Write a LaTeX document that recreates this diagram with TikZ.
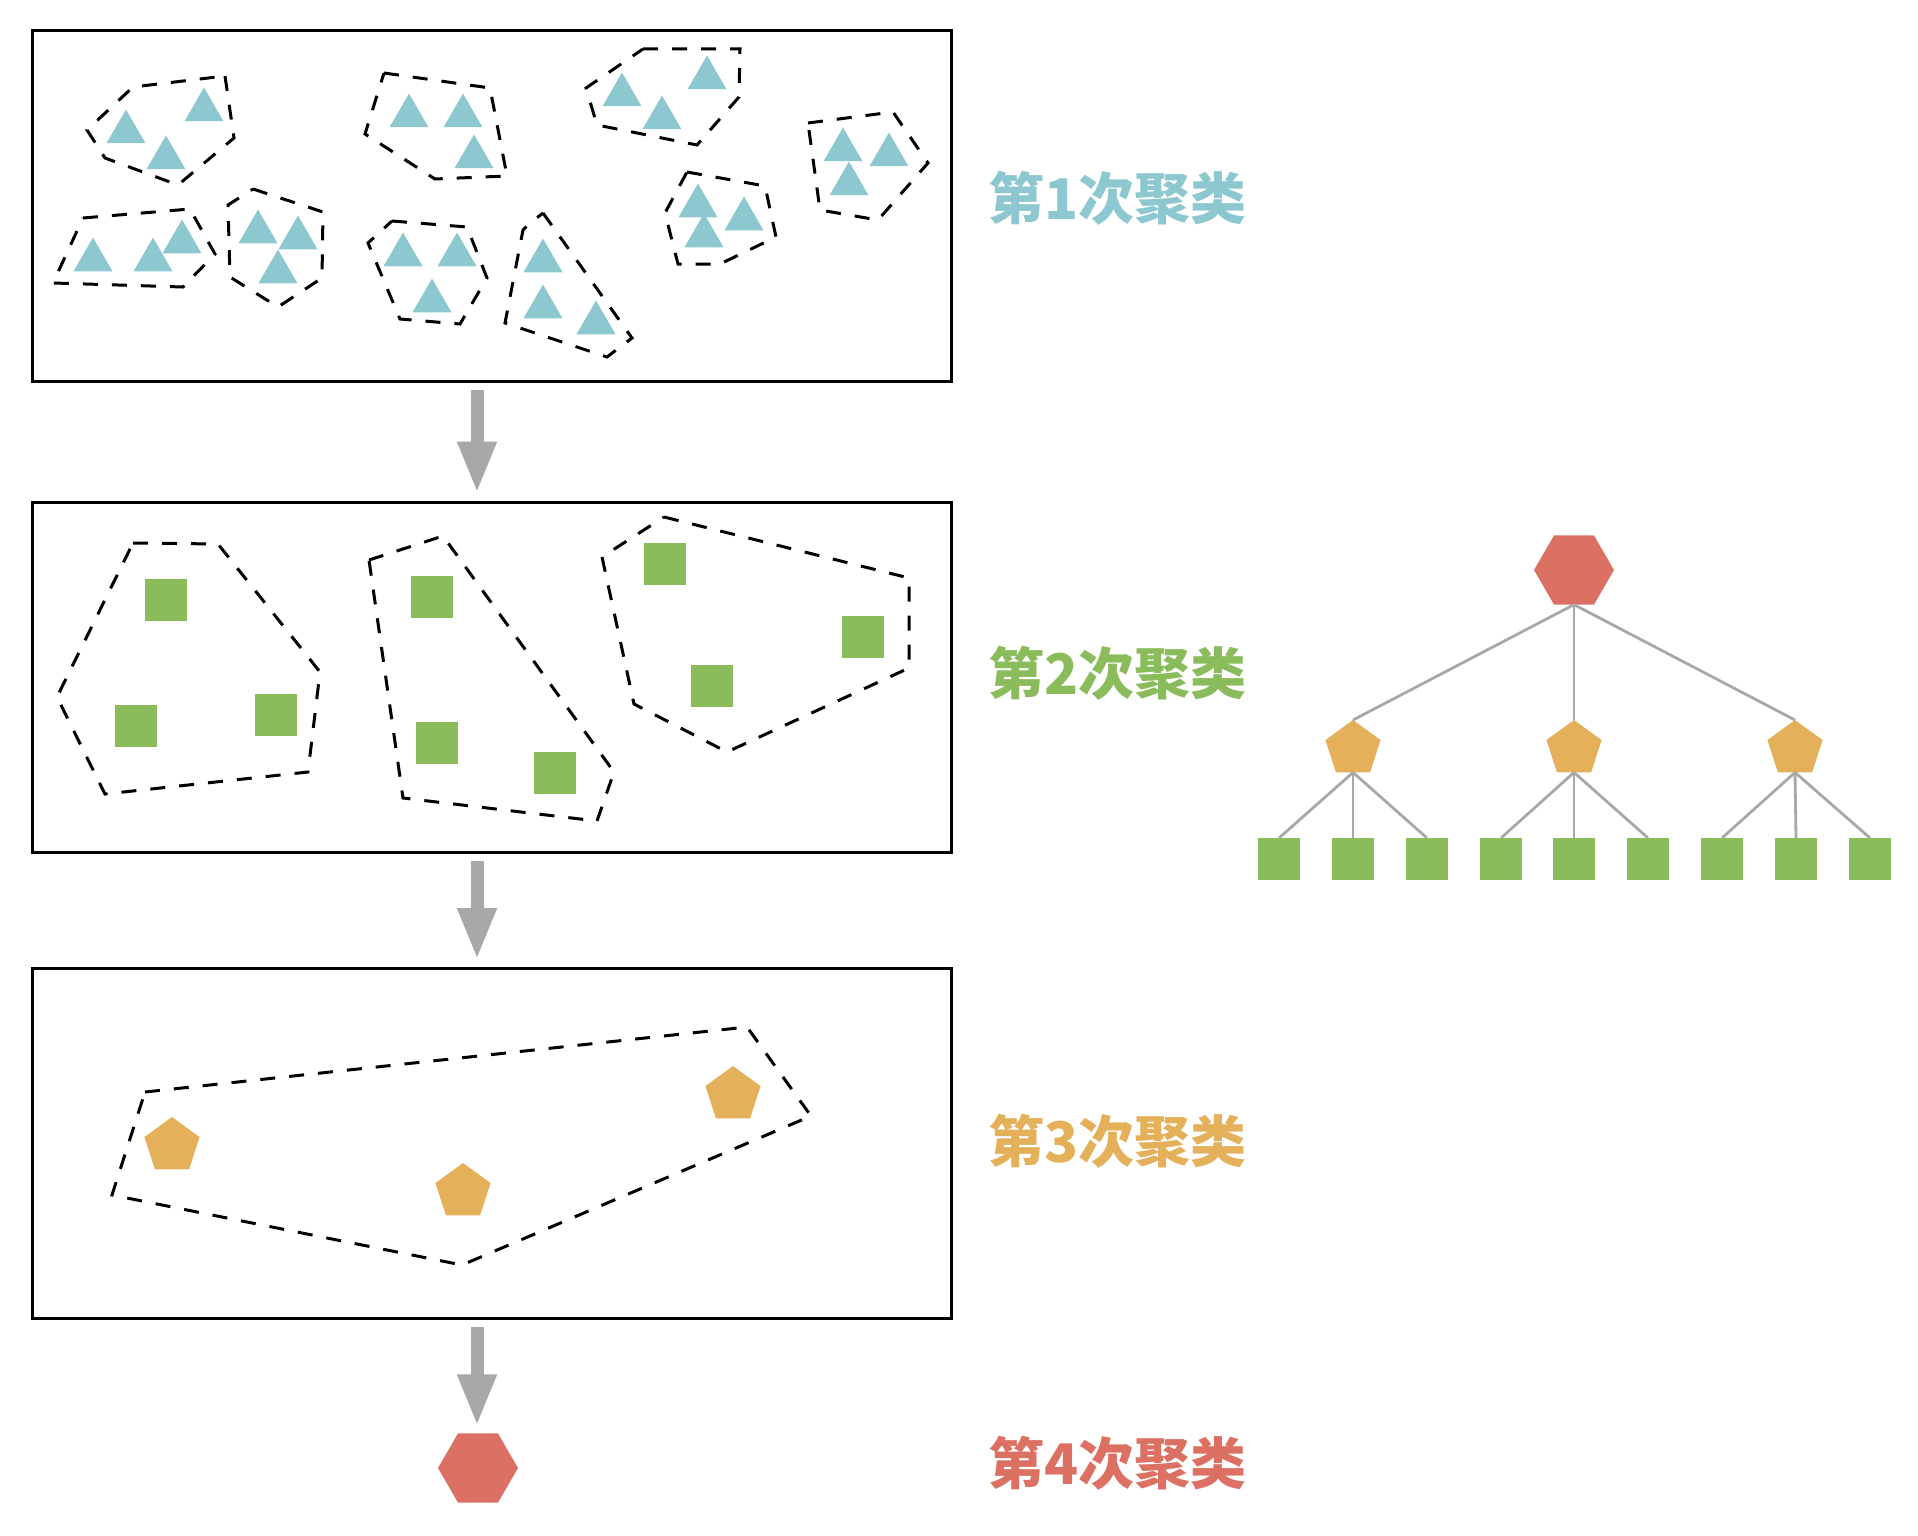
\documentclass[tikz,border=0pt]{standalone}
\usepackage{fontspec}
\newfontfamily\cjk{Noto Sans CJK SC}
\usetikzlibrary{shapes.geometric,arrows.meta}
\definecolor{clteal}{HTML}{8DC8D0}
\definecolor{clgreen}{HTML}{8BBC5B}
\definecolor{clorange}{HTML}{E5B05A}
\definecolor{clred}{HTML}{DC7163}
\definecolor{clgrey}{HTML}{A8A8A8}
\tikzset{
  panel/.style={draw, line width=1.5pt, minimum width=459.5pt, minimum height=175pt},
  hull/.style={line width=1.5pt, dash pattern=on 7.5pt off 7pt},
  tri/.style={regular polygon, regular polygon sides=3, fill=clteal, minimum size=22.5pt, inner sep=0pt, outer sep=0pt},
  sq/.style={rectangle, fill=clgreen, minimum size=21pt, inner sep=0pt, outer sep=0pt},
  pent/.style={regular polygon, regular polygon sides=5, fill=clorange, minimum size=29pt, inner sep=0pt, outer sep=0pt},
  hexa/.style={regular polygon, regular polygon sides=6, fill=clred, minimum size=40pt, inner sep=0pt, outer sep=0pt},
  flow/.style={draw=clgrey, line width=6.5pt, -{Triangle[length=26pt,width=18pt]}, shorten <=3.5pt, shorten >=3.5pt},
  link/.style={draw=clgrey, line width=1.4pt},
  stage/.style={anchor=west, font=\cjk\bfseries\fontsize{28pt}{32pt}\selectfont, inner sep=0pt}
}
\begin{document}
\begin{tikzpicture}[x=0.5pt,y=-0.5pt]
  \useasboundingbox (0,0) rectangle (1918,1536);

  % three panels
  \node[panel] (b1) at (491.5,206) {};
  \node[panel] (b2) at (491.5,677) {};
  \node[panel] (b3) at (491.5,1143.5) {};

  % first round: small groups
  \foreach \x/\y [count=\i] in {126/132,204/110,166/158, 409/116,463/116,474/157,
      93/260,153/260,182/242, 258/232,298/238,278/272, 403/255,457/255,432/301,
      622/95,707/78,662/118, 698/206,744/219,704/236, 843/150,889/155,849/184,
      543/261,543/307,596/323}
    \node[tri] (t\i) at (\x,\y) {};
  \draw[hull] (225,76) -- (234,138) -- (178,185) -- (105,158) -- (87,130) -- (133,87) -- cycle;
  \draw[hull] (384,73) -- (490,88) -- (507,176) -- (435,179) -- (365,134) -- cycle;
  \draw[hull] (83,218) -- (190,209) -- (215,254) -- (183,287) -- (53,283) -- cycle;
  \draw[hull] (253,189) -- (323,212) -- (322,278) -- (278,307) -- (230,277) -- (228,205) -- cycle;
  \draw[hull] (392,221) -- (467,227) -- (487,278) -- (460,324) -- (400,319) -- (368,243) -- cycle;
  \draw[hull] (643,49) -- (740,49) -- (739,97) -- (697,145) -- (597,125) -- (586,88) -- cycle;
  \draw[hull] (687,172) -- (765,186) -- (776,237) -- (720,264) -- (678,264) -- (665,213) -- cycle;
  \draw[hull] (808,123) -- (893,112) -- (928,163) -- (878,220) -- (820,210) -- cycle;
  \draw[hull] (543,213) -- (632,338) -- (607,357) -- (505,323) -- (523,230) -- (529,224) -- cycle;

  % second round
  \foreach \x/\y [count=\i] in {166/600,136/726,276/715, 432/597,437/743,555/773,
      665/564,863/637,712/686}
    \node[sq] (q\i) at (\x,\y) {};
  \draw[hull] (133,543) -- (218,544) -- (320,672) -- (308,772) -- (105,794) -- (57,697) -- cycle;
  \draw[hull] (369,560) -- (443,536) -- (614,772) -- (597,821) -- (403,798) -- cycle;
  \draw[hull] (664,517) -- (909,578) -- (909,668) -- (727,752) -- (634,704) -- (602,557) -- cycle;

  % third round
  \foreach \x/\y [count=\i] in {172/1146,463/1192,733/1095}
    \node[pent] (p\i) at (\x,\y) {};
  \draw[hull] (145,1092) -- (747,1027) -- (811,1116) -- (462,1265) -- (112,1195) -- cycle;

  % result
  \node[hexa] (top) at (478,1468) {};

  \coordinate (ax) at (477,0);
  \draw[flow] (b1.south -| ax) -- (b2.north -| ax);
  \draw[flow] (b2.south -| ax) -- (b3.north -| ax);
  \draw[flow] (b3.south -| ax) -- (top.north -| ax);

  \node[stage, text=clteal] (s1) at (988,198) {第1次聚类};
  \node[stage, text=clgreen] (s2) at (988,673) {第2次聚类};
  \node[stage, text=clorange] (s3) at (988,1141) {第3次聚类};
  \node[stage, text=clred] (s4) at (988,1463) {第4次聚类};

  % hierarchy
  \node[hexa] (root) at (1574,570) {};
  \foreach \x [count=\i] in {1353,1574,1795}
    \node[pent] (mid\i) at (\x,749) {};
  \foreach \x [count=\i] in {1279,1353,1427,1501,1574,1648,1722,1796,1870}
    \node[sq] (leaf\i) at (\x,859) {};
  \foreach \i in {1,2,3}
    \draw[link] (root.south) -- (mid\i.north);
  \foreach \m/\l in {1/1,1/2,1/3,2/4,2/5,2/6,3/7,3/8,3/9}
    \draw[link] (mid\m.south) -- (leaf\l.north);
\end{tikzpicture}
\end{document}
